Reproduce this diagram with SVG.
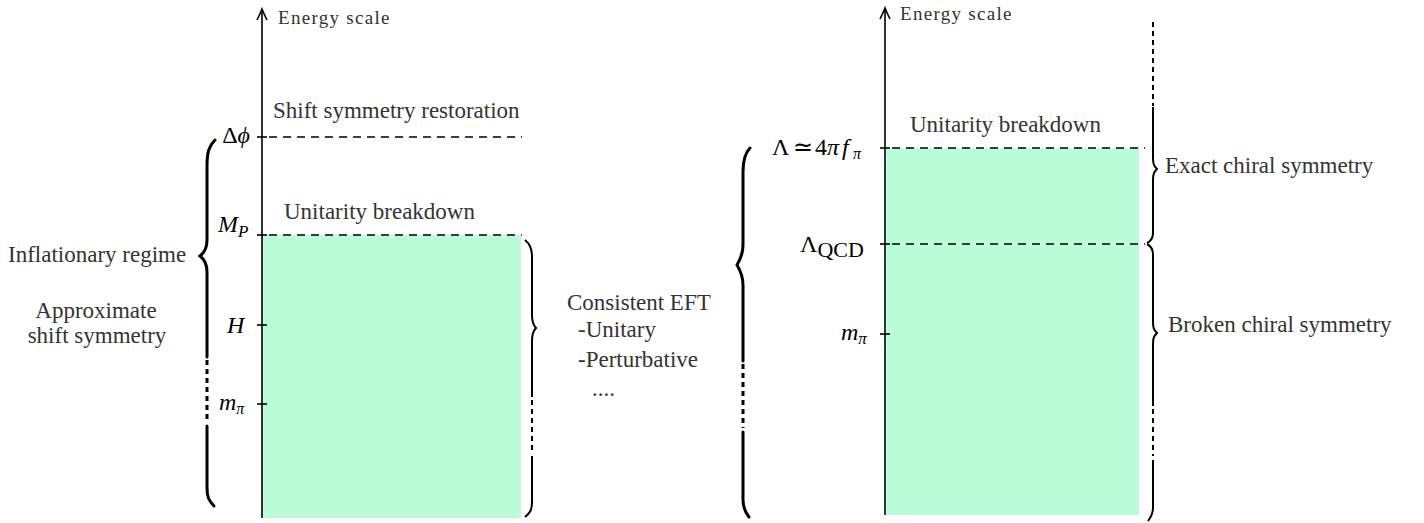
<svg xmlns="http://www.w3.org/2000/svg" width="1424" height="523" viewBox="0 0 1424 523">
<style>
.lbl{font-family:"Liberation Serif","Times New Roman",serif;font-size:23px;fill:#333}
.sm{font-size:19px;letter-spacing:1.3px}
.m{font-family:"Liberation Serif","Times New Roman",serif;fill:#000;font-size:24px}
.it{font-style:italic}
.ax{stroke:#000;stroke-width:1.6;fill:none}
.tk{stroke:#000;stroke-width:1.6}
.dl{stroke:#000;stroke-width:1.3;stroke-dasharray:8,6;fill:none}
.br{stroke:#000;stroke-width:3;fill:none;stroke-linecap:round}
.br2{stroke:#000;stroke-width:2;fill:none}
.dot3{stroke:#000;stroke-width:3;fill:none;stroke-dasharray:5,4}
.dot2{stroke:#000;stroke-width:2;fill:none;stroke-dasharray:5,4}
.fill{fill:#bbfdd8}
</style>
<rect width="1424" height="523" fill="#fff"/>

<g id="left-panel">
  <rect class="fill" x="263" y="235" width="258" height="283"/>
  <line class="ax" x1="262" y1="518" x2="262" y2="9"/>
  <path class="ax" d="M257,20 Q260,14 262,9 Q264,14 267,20"/>
  <text class="lbl sm" x="278" y="24">Energy scale</text>
  <line class="tk" x1="257" y1="137" x2="267" y2="137"/>
  <line class="tk" x1="257" y1="235" x2="267" y2="235"/>
  <line class="tk" x1="257" y1="325" x2="267" y2="325"/>
  <line class="tk" x1="257" y1="404" x2="267" y2="404"/>
  <line class="dl" x1="269" y1="137" x2="522" y2="137"/>
  <line class="dl" x1="269" y1="235" x2="522" y2="235"/>
  <text class="lbl" x="273" y="118">Shift symmetry restoration</text>
  <text class="lbl" x="284" y="219">Unitarity breakdown</text>
  <text class="m" x="250" y="143" text-anchor="end" font-size="18">Δ<tspan class="it">ϕ</tspan></text>
  <text class="m it" x="218" y="232" font-size="25">M<tspan font-size="17" dy="5">P</tspan></text>
  <text class="m it" x="227" y="333" font-size="26">H</text>
  <text class="m it" x="219" y="410" font-size="28">m<tspan font-size="16" dy="4">π</tspan></text>
</g>

<g id="left-brace">
  <path class="br" d="M215,140 C209,146 207,152 207,166 L207,240 C207,249 204,253 200,256 C204,259 207,263 207,272 L207,357"/>
  <line class="dot3" x1="207" y1="360" x2="207" y2="422"/>
  <path class="br" d="M207,426 L207,488 C207,497 209,501 214,506"/>
  <text class="lbl" x="8" y="262">Inflationary regime</text>
  <text class="lbl" x="96" y="318" text-anchor="middle">Approximate</text>
  <text class="lbl" x="97" y="343" text-anchor="middle">shift symmetry</text>
</g>

<g id="eft-brace">
  <path class="br2" d="M525,240 C530,244 532,248 532,256 L532,315 C532,322 533,325 536,328 C533,331 532,334 532,341 L532,397"/>
  <line class="dot2" x1="532" y1="400" x2="532" y2="452"/>
  <path class="br2" d="M532,456 L532,502 C532,510 530,513 525,517"/>
  <text class="lbl" x="567" y="310">Consistent EFT</text>
  <text class="lbl" x="578" y="337">-Unitary</text>
  <text class="lbl" x="578" y="367">-Perturbative</text>
  <text class="lbl" x="592" y="396">....</text>
</g>

<g id="right-panel">
  <rect class="fill" x="886" y="148" width="253" height="367"/>
  <line class="ax" x1="885" y1="515" x2="885" y2="8"/>
  <path class="ax" d="M880,19 Q883,13 885,8 Q887,13 890,19"/>
  <text class="lbl sm" x="900" y="20">Energy scale</text>
  <line class="tk" x1="880" y1="148" x2="890" y2="148"/>
  <line class="tk" x1="880" y1="244" x2="890" y2="244"/>
  <line class="tk" x1="880" y1="334" x2="890" y2="334"/>
  <line class="dl" x1="892" y1="148" x2="1145" y2="148"/>
  <line class="dl" x1="892" y1="244" x2="1145" y2="244"/>
  <text class="lbl" x="910" y="132">Unitarity breakdown</text>
  <text class="m" y="155" font-size="23"><tspan x="772">Λ</tspan><tspan x="793">≃</tspan><tspan x="815">4</tspan><tspan x="827" class="it">π</tspan><tspan x="842" class="it">f</tspan><tspan x="853" dy="4" font-size="16" class="it">π</tspan></text>
  <text class="m" x="800" y="252" font-size="27">Λ<tspan font-size="22" dy="5">QCD</tspan></text>
  <text class="m it" x="841" y="340" font-size="30">m<tspan font-size="17" dy="4">π</tspan></text>
</g>

<g id="right-left-brace">
  <path class="br" d="M750,148 C745,153 743,160 743,172 L743,245 C743,254 740,260 737,265 C740,270 743,276 743,285 L743,361"/>
  <line class="dot3" x1="743" y1="364" x2="743" y2="428"/>
  <path class="br" d="M743,432 L743,500 C743,508 745,512 749,517"/>
</g>

<g id="chiral-braces">
  <line class="dot2" x1="1153" y1="22" x2="1153" y2="106"/>
  <path class="br2" d="M1153,107 L1153,158 C1153,164 1154,166 1157,169 C1154,172 1153,174 1153,180 L1153,233 C1153,238 1151,241 1147,243"/>
  <path class="br2" d="M1147,244 C1151,246 1153,249 1153,255 L1153,322 C1153,328 1154,330 1157,333 C1154,336 1153,338 1153,344 L1153,406"/>
  <line class="dot2" x1="1153" y1="409" x2="1153" y2="456"/>
  <path class="br2" d="M1153,460 L1153,508 C1153,514 1151,517 1148,521"/>
  <text class="lbl" x="1165" y="173">Exact chiral symmetry</text>
  <text class="lbl" x="1168" y="332">Broken chiral symmetry</text>
</g>
</svg>
